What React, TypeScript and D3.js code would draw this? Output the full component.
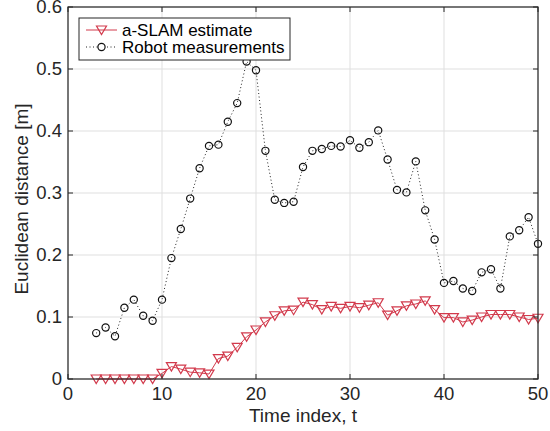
import React from "react";
import * as d3 from "d3";

const timeIdx = [3,4,5,6,7,8,9,10,11,12,13,14,15,16,17,18,19,20,21,22,23,24,25,26,27,28,29,30,31,32,33,34,35,36,37,38,39,40,41,42,43,44,45,46,47,48,49,50];
const robotMeas = [0.074,0.083,0.069,0.115,0.128,0.102,0.094,0.128,0.195,0.242,0.291,0.340,0.376,0.378,0.415,0.445,0.512,0.498,0.368,0.289,0.284,0.286,0.342,0.368,0.371,0.376,0.375,0.385,0.373,0.382,0.401,0.354,0.305,0.301,0.351,0.272,0.225,0.155,0.158,0.146,0.142,0.172,0.177,0.146,0.230,0.240,0.261,0.218];
const slamEst = [0,0,0,0,0,0,0,0.009,0.020,0.016,0.011,0.010,0.008,0.033,0.037,0.051,0.068,0.079,0.092,0.102,0.110,0.111,0.124,0.120,0.112,0.117,0.114,0.117,0.115,0.119,0.123,0.103,0.110,0.118,0.121,0.126,0.112,0.099,0.099,0.092,0.095,0.100,0.104,0.104,0.104,0.100,0.096,0.098];
const xTicks = [0,10,20,30,40,50];
const yTicks = [0,0.1,0.2,0.3,0.4,0.5,0.6];
const legendLabels = ["a-SLAM estimate","Robot measurements"];

const W = 550, H = 431;
const L = 68, R = 538, T = 7, B = 379;
const RED = "#d23a4c";
const AX = "#262626";
const FONT = "'Liberation Sans', Arial, Helvetica, sans-serif";

export default function App() {
  const x = d3.scaleLinear().domain([0, 50]).range([L, R]);
  const y = d3.scaleLinear().domain([0, 0.6]).range([B, T]);
  const lineR = d3.line<number>().x((_, i) => x(timeIdx[i])).y((d) => y(d));
  const tri = (cx: number, cy: number, s = 5) =>
    `M${cx - s},${cy - s * 0.8}L${cx + s},${cy - s * 0.8}L${cx},${cy + s * 0.9}Z`;

  return (
    <svg width={W} height={H} style={{ position: "absolute", left: 0, top: 0, background: "#fff" }} fontFamily={FONT}>
      <rect x={0} y={0} width={W} height={H} fill="#fff" />
      {/* grid */}
      {xTicks.map((t) => (
        <line key={"gx" + t} x1={x(t)} x2={x(t)} y1={T} y2={B} stroke="#dfdfdf" strokeWidth={1} />
      ))}
      {yTicks.map((t) => (
        <line key={"gy" + t} x1={L} x2={R} y1={y(t)} y2={y(t)} stroke="#dfdfdf" strokeWidth={1} />
      ))}
      {/* robot measurements */}
      <path d={lineR(robotMeas) || ""} fill="none" stroke="#222" strokeWidth={1} strokeDasharray="1,2.5" />
      {robotMeas.map((v, i) => (
        <circle key={"c" + i} cx={x(timeIdx[i])} cy={y(v)} r={3.6} fill="none" stroke="#111" strokeWidth={1.2} />
      ))}
      {/* slam */}
      <path d={lineR(slamEst) || ""} fill="none" stroke={RED} strokeWidth={1} />
      {slamEst.map((v, i) => (
        <path key={"t" + i} d={tri(x(timeIdx[i]), y(v))} fill="none" stroke={RED} strokeWidth={1.2} />
      ))}
      {/* axes box */}
      <rect x={L} y={T} width={R - L} height={B - T} fill="none" stroke={AX} strokeWidth={1.2} />
      {xTicks.map((t) => (
        <g key={"xt" + t}>
          <line x1={x(t)} x2={x(t)} y1={B} y2={B - 5} stroke={AX} />
          <line x1={x(t)} x2={x(t)} y1={T} y2={T + 5} stroke={AX} />
          <text x={x(t)} y={B + 21} textAnchor="middle" fontSize={18.5} fill={AX}>{t}</text>
        </g>
      ))}
      {yTicks.map((t) => (
        <g key={"yt" + t}>
          <line x1={L} x2={L + 5} y1={y(t)} y2={y(t)} stroke={AX} />
          <line x1={R} x2={R - 5} y1={y(t)} y2={y(t)} stroke={AX} />
          <text x={L - 6} y={y(t) + 6} textAnchor="end" fontSize={18.5} fill={AX}>{t === 0 ? "0" : t.toFixed(1)}</text>
        </g>
      ))}
      <text x={303} y={421.5} textAnchor="middle" fontSize={19} fill={AX}>Time index, t</text>
      <text transform={`translate(28,199) rotate(-90)`} textAnchor="middle" fontSize={19} fill={AX}>Euclidean distance [m]</text>
      {/* legend */}
      <rect x={79} y={18} width={211} height={42} fill="#fff" stroke={AX} strokeWidth={1} />
      <line x1={86} x2={117} y1={30} y2={30} stroke={RED} strokeWidth={1} />
      <path d={tri(101.5, 30)} fill="none" stroke={RED} strokeWidth={1.2} />
      <text x={122} y={36} fontSize={17} fill="#000">{legendLabels[0]}</text>
      <line x1={86} x2={117} y1={47} y2={47} stroke="#222" strokeWidth={1} strokeDasharray="1,2.5" />
      <circle cx={101.5} cy={47} r={3.6} fill="#fff" stroke="#111" strokeWidth={1.2} />
      <text x={122} y={53} fontSize={17} fill="#000">{legendLabels[1]}</text>
    </svg>
  );
}
